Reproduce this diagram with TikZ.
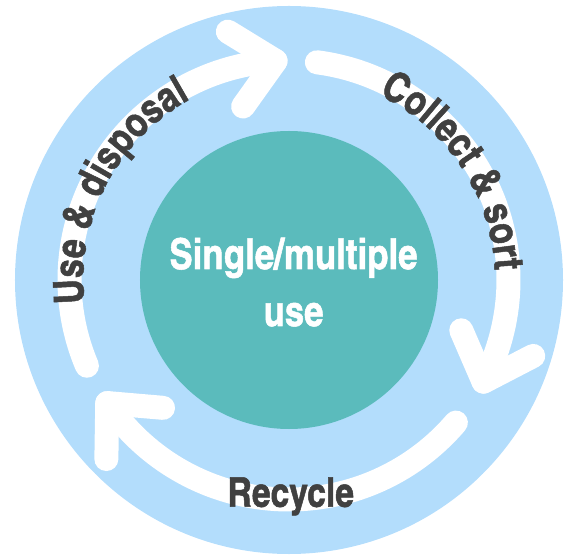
\documentclass[tikz,border=0pt]{standalone}
\usepackage{fontspec}
\newfontfamily\cnfont[FakeBold=1.2]{texgyreheroscn-bold.otf}
\usetikzlibrary{decorations.text}
\definecolor{ringblue}{RGB}{179,221,252}
\definecolor{hubteal}{RGB}{91,187,188}
\definecolor{labelgrey}{RGB}{64,64,64}
\tikzset{
  band/.style={draw=white, line width=24pt, line cap=round, line join=round},
  hubfont/.style={font=\cnfont\fontsize{42.5}{42.5}\selectfont},
  labelfont/.style={font=\cnfont\fontsize{41}{41}\selectfont},
}
\begin{document}
\begin{tikzpicture}[x=1pt,y=1pt]
\useasboundingbox (-289,-276) rectangle (283,280);
\fill[ringblue] (0,0) circle[radius=274];
\node[circle, fill=hubteal, minimum size=298pt, inner sep=0pt] (hub) at (0,0) {};
% arrow 1: use & disposal
\coordinate (s1) at (203:219.5);
\coordinate (t1) at (93.5:219.5);
\draw[band] (s1) arc[start angle=203, end angle=93.5, radius=219.5];
\draw[band] ([shift={(148.5:56)}]t1) -- (t1) -- ([shift={(234.5:56)}]t1);
% arrow 2: collect & sort
\coordinate (s2) at (82.7:219.5);
\coordinate (t2) at (-27.6:219.5);
\draw[band] (s2) arc[start angle=82.7, end angle=-27.6, radius=219.5];
\draw[band] ([shift={(27.4:56)}]t2) -- (t2) -- ([shift={(113.4:56)}]t2);
% arrow 3: recycle
\coordinate (s3) at (-40.5:219.5);
\coordinate (t3) at (-145.9:219.5);
\draw[band] (s3) arc[start angle=-40.5, end angle=-145.9, radius=219.5];
\draw[band] ([shift={(-90.9:56)}]t3) -- (t3) -- ([shift={(-4.9:56)}]t3);
% labels
\node[hubfont, text=white, anchor=base, inner sep=0pt] (single) at (4.5,11) {Single/multiple};
\node[hubfont, text=white, anchor=base, inner sep=0pt] (use) at (4.5,-46) {use};
\node[labelfont, text=labelgrey, anchor=base, inner sep=0pt] (recycle) at (1.8,-226.7) {Recycle};
\path[decorate, decoration={text along path, text align=center,
  text={|\cnfont\fontsize{41.5}{41.5}\selectfont\color{labelgrey}|Use {\&} disposal}}]
  (215:206) arc[start angle=215, end angle=90, radius=206];
\path[decorate, decoration={text along path, text align=center,
  text={|\cnfont\fontsize{41.5}{41.5}\selectfont\color{labelgrey}|Collect {\&} sort}}]
  (95:206) arc[start angle=95, end angle=-28.2, radius=206];
\end{tikzpicture}
\end{document}
